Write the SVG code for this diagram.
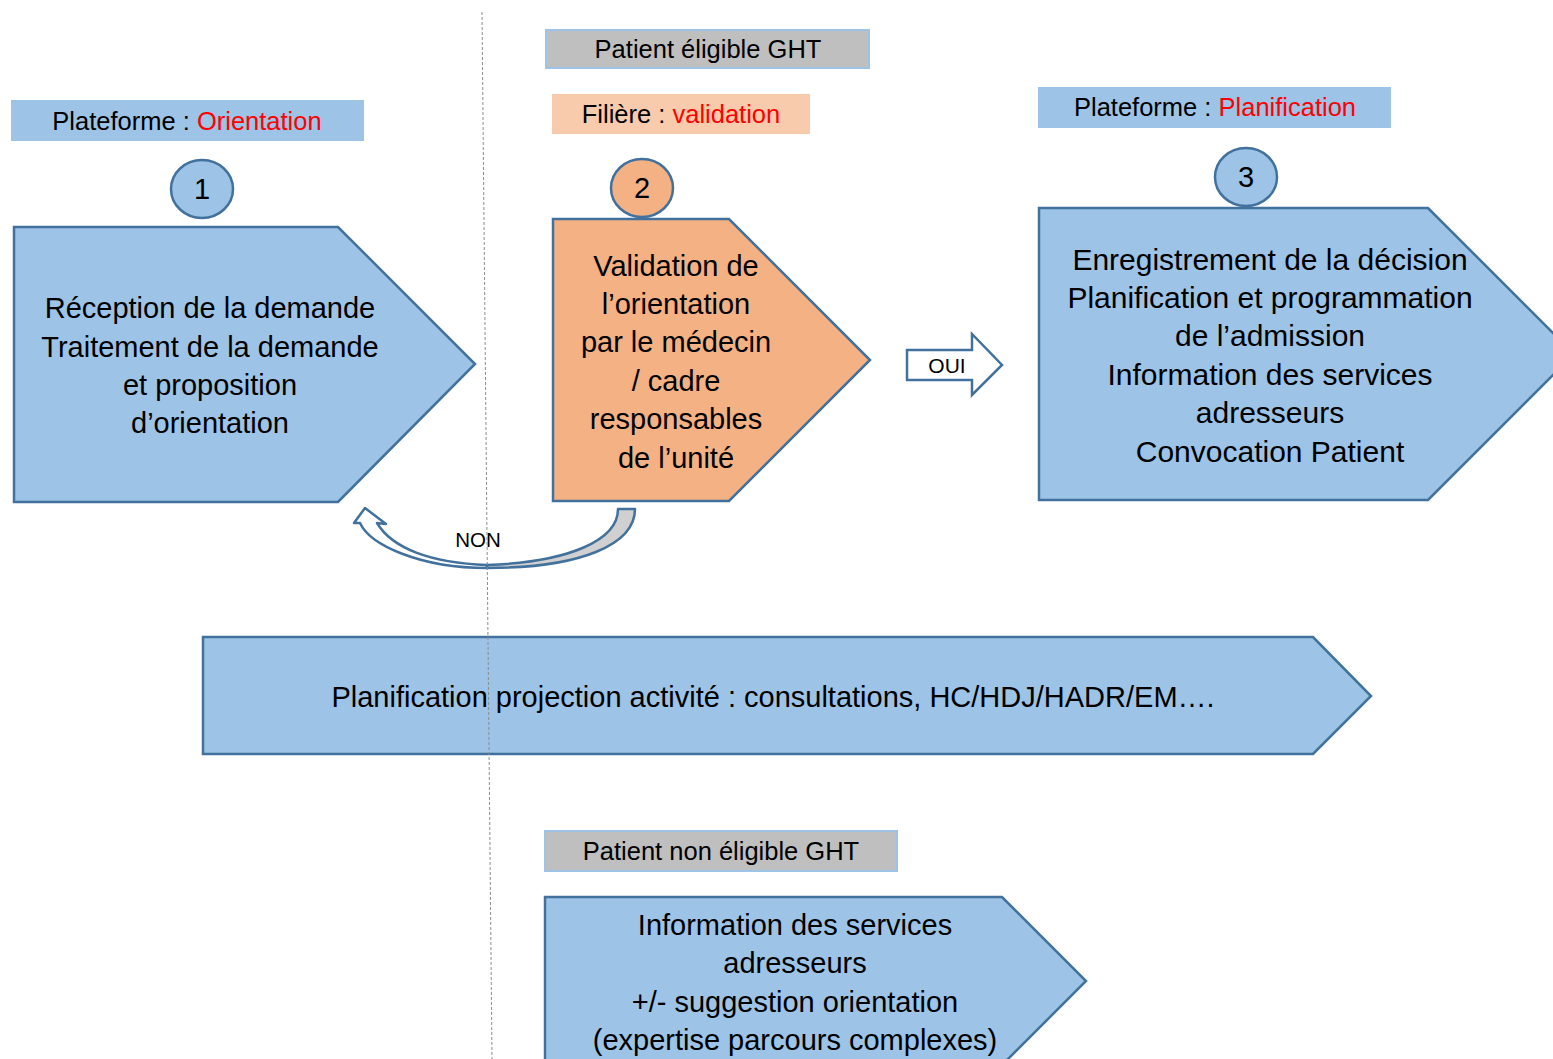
<svg xmlns="http://www.w3.org/2000/svg" width="1553" height="1059" viewBox="0 0 1553 1059">
<style>
text{font-family:"Liberation Sans",Arial,sans-serif;fill:#000;text-anchor:middle}
.lbl{font-size:25.5px}
.main{font-size:29px}
.red{fill:#FF0000}
.blue{fill:#9DC3E6;stroke:#41719C;stroke-width:2.5}
.orange{fill:#F4B183;stroke:#41719C;stroke-width:2.5}
.gray{fill:#BFBFBF;stroke:#9DC3E6;stroke-width:2}
</style>
<rect width="1553" height="1059" fill="#fff"/>
<g id="label-orientation">
<rect x="11" y="100" width="353" height="41" fill="#9DC3E6"/>
<text class="lbl" x="187" y="130">Plateforme : <tspan class="red">Orientation</tspan></text>
</g>
<g id="circle-1">
<ellipse class="blue" cx="202" cy="189" rx="31" ry="29" stroke-width="2"/>
<text x="202" y="199" style="font-size:29px">1</text>
</g>
<g id="step-1">
<path class="blue" d="M14,227 L338,227 L475,364 L338,502 L14,502 Z"/>
<text class="main"><tspan x="210" y="318">Réception de la demande</tspan><tspan x="210" y="357">Traitement de la demande</tspan><tspan x="210" y="395">et proposition</tspan><tspan x="210" y="433">d’orientation</tspan></text>
</g>
<g id="label-eligible">
<rect class="gray" x="546" y="30" width="323" height="38"/>
<text class="lbl" x="708" y="58">Patient éligible GHT</text>
</g>
<g id="label-filiere">
<rect x="552" y="94" width="258" height="40" fill="#F8CBAD"/>
<text class="lbl" x="681" y="123">Filière : <tspan class="red">validation</tspan></text>
</g>
<g id="circle-2">
<ellipse class="orange" cx="642" cy="188" rx="31" ry="29" stroke-width="2"/>
<text x="642" y="198" style="font-size:29px">2</text>
</g>
<g id="step-2">
<path class="orange" d="M553,219 L729,219 L870,360 L729,501 L553,501 Z"/>
<text class="main"><tspan x="676" y="276">Validation de</tspan><tspan x="676" y="314">l’orientation</tspan><tspan x="676" y="352">par le médecin</tspan><tspan x="676" y="391">/ cadre</tspan><tspan x="676" y="429">responsables</tspan><tspan x="676" y="468">de l’unité</tspan></text>
</g>
<g id="label-planification">
<rect x="1038" y="87" width="353" height="41" fill="#9DC3E6"/>
<text class="lbl" x="1215" y="116">Plateforme : <tspan class="red">Planification</tspan></text>
</g>
<g id="circle-3">
<ellipse class="blue" cx="1246" cy="177" rx="31" ry="29" stroke-width="2"/>
<text x="1246" y="187" style="font-size:29px">3</text>
</g>
<g id="step-3">
<path class="blue" d="M1039,208 L1428,208 L1574,354 L1428,500 L1039,500 Z"/>
<text class="main" style="font-size:30px"><tspan x="1270" y="270">Enregistrement de la décision</tspan><tspan x="1270" y="308">Planification et programmation</tspan><tspan x="1270" y="346">de l’admission</tspan><tspan x="1270" y="385">Information des services</tspan><tspan x="1270" y="423">adresseurs</tspan><tspan x="1270" y="462">Convocation Patient</tspan></text>
</g>
<g id="activity">
<path class="blue" d="M203,637 L1313,637 L1371,696 L1313,754 L203,754 Z"/>
<text class="main" x="773" y="707">Planification projection activité : consultations, HC/HDJ/HADR/EM….</text>
</g>
<g id="label-non-eligible">
<rect class="gray" x="545" y="831" width="352" height="40"/>
<text class="lbl" x="721" y="860">Patient non éligible GHT</text>
</g>
<g id="step-non-eligible">
<path class="blue" d="M545,897 L1002,897 L1086,981 L1002,1065 L545,1065 Z"/>
<text class="main"><tspan x="795" y="935">Information des services</tspan><tspan x="795" y="973">adresseurs</tspan><tspan x="795" y="1012">+/- suggestion orientation</tspan><tspan x="795" y="1050">(expertise parcours complexes)</tspan></text>
</g>
<g id="connectors">
<g id="oui">
<path d="M907,350 L972,350 L972,334 L1002,365 L972,395 L972,380 L907,380 Z" fill="#fff" stroke="#41719C" stroke-width="2.5"/>
<text x="947" y="373" style="font-size:21px">OUI</text>
</g>
<g id="non">
<path d="M487,568 C580,568 635,545 635,509 L618,509 C618,540 570,562 487,565 Z" fill="#D0D0D0" stroke="#41719C" stroke-width="2.5" stroke-linejoin="round"/>
<path d="M487,568 C420,568 370,545 360,523 L354,523 L365,508 L386,524 L377,523 C392,548 430,563 487,565 Z" fill="#fff" stroke="#41719C" stroke-width="2.5" stroke-linejoin="round"/>
<text x="478" y="547" style="font-size:20.5px">NON</text>
</g>
</g>
<line x1="482" y1="12" x2="492" y2="1059" stroke="#8C8C8C" stroke-width="1" stroke-dasharray="3,2"/>
</svg>
